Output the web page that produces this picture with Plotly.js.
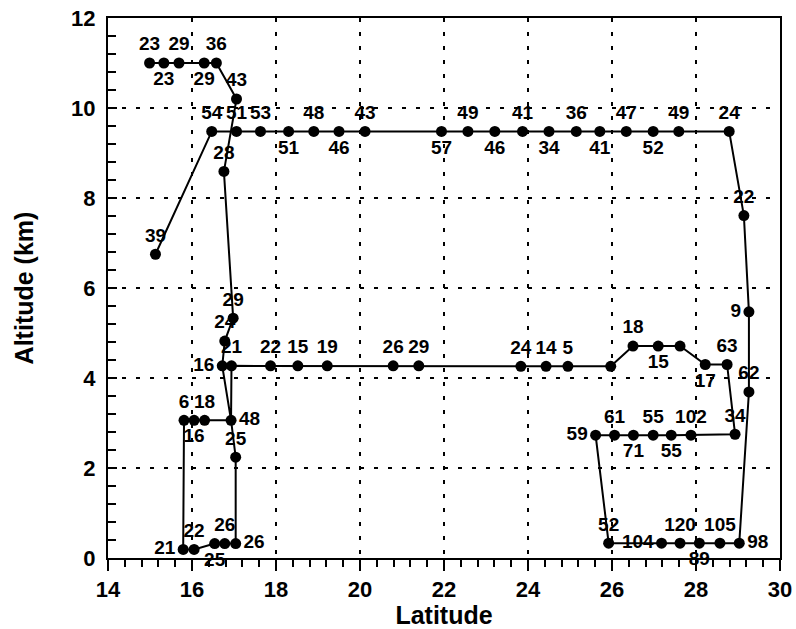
<!DOCTYPE html>
<html>
<head>
<meta charset="utf-8">
<script src="https://cdn.plot.ly/plotly-3.0.1.min.js"></script>
<style>html,body{margin:0;padding:0;background:#fff;}#chart{width:796px;height:629px;}</style>
</head>
<body>
<div id="chart"></div>
<script>
// Flight observation points: latitude (deg), altitude (km), value label
const lat = [14.99, 15.33, 15.69, 16.29, 16.58, 17.06, 16.76, 16.98, 16.78, 16.72,
             16.93, 17.04, 17.04, 16.78, 16.54, 16.05, 15.79, 15.81, 16.05, 16.30,
             16.94, 17.87, 18.52, 19.22, 20.79, 21.40, 23.83, 24.43, 24.95, 25.97,
             26.50, 27.10, 27.62, 28.22, 28.74, 28.93, 27.88, 27.41, 26.98, 26.51,
             26.06, 25.61, 25.92, 27.18, 27.62, 28.08, 28.57, 29.03, 29.26, 29.26,
             29.14, 28.79, 27.59, 26.98, 26.34, 25.71, 25.15, 24.50, 23.87, 23.21,
             22.57, 21.94, 20.12, 19.50, 18.90, 18.30, 17.63, 17.06, 16.47, 15.13];
const alt = [11.0, 11.0, 11.0, 11.0, 11.0, 10.2, 8.59, 5.33, 4.82, 4.27,
             3.06, 2.24, 0.32, 0.32, 0.32, 0.19, 0.19, 3.06, 3.06, 3.06,
             4.27, 4.27, 4.27, 4.27, 4.27, 4.27, 4.26, 4.26, 4.26, 4.26,
             4.71, 4.71, 4.71, 4.30, 4.30, 2.75, 2.73, 2.73, 2.73, 2.73,
             2.73, 2.73, 0.33, 0.33, 0.33, 0.33, 0.33, 0.33, 3.69, 5.47,
             7.61, 9.48, 9.48, 9.48, 9.48, 9.48, 9.48, 9.48, 9.48, 9.48,
             9.48, 9.48, 9.48, 9.48, 9.48, 9.48, 9.48, 9.48, 9.48, 6.75];
const labels = ['23','23','29','29','36','43','28','29','24','16',
                '48','25','26','26','25','22','21','6','16','18',
                '21','22','15','19','26','29','24','14','5','',
                '18','15','','17','63','34','102','55','55','71',
                '61','59','52','104','120','89','105','98','62','9',
                '22','24','49','52','47','41','36','34','41','46',
                '49','57','43','46','48','51','53','51','54','39'];
// Flight track: order in which the points are joined
const track = [0,1,2,3,4,5,6,7,8,9,10,11,12,13,14,15,16,17,18,19,10,
               20,21,22,23,24,25,26,27,28,29,30,31,32,33,34,35,36,37,38,39,
               40,41,42,43,44,45,46,47,48,49,50,51,52,53,54,55,56,57,58,59,
               60,61,62,63,64,65,66,67,68,69];

// label placement (style)
const T='top center', B='bottom center', L='middle left', R='middle right';
const labelPos = [T,B,T,B,T,T,T,T,T,L,
                  R,T,R,T,B,T,L,T,B,T,
                  T,T,T,T,T,T,T,T,T,T,
                  T,B,T,B,T,T,T,B,T,B,
                  T,L,T,L,T,B,T,R,T,L,
                  T,T,T,B,T,B,T,B,T,B,
                  T,B,T,B,T,B,T,T,T,T];

const FONT = 'Liberation Sans, Arial, Helvetica, sans-serif';

const lineTrace = {
  x: track.map(i => lat[i]),
  y: track.map(i => alt[i]),
  mode: 'lines',
  line: {color: '#000', width: 2},
  hoverinfo: 'skip',
  cliponaxis: false
};
const pointTrace = {
  x: lat, y: alt, text: labels,
  mode: 'markers+text',
  textposition: labelPos,
  marker: {color: '#000', size: 11},
  textfont: {family: FONT, size: 19, color: '#000', weight: 'bold'},
  cliponaxis: false
};

const axisCommon = {
  showline: true, linecolor: '#000', linewidth: 2, mirror: true,
  showgrid: true, gridcolor: '#000', gridwidth: 2, griddash: '4px,10px',
  zeroline: false, dtick: 2, tickwidth: 2, tickcolor: '#000',
  tickfont: {family: FONT, size: 22, color: '#000', weight: 'bold'}
};

const layout = {
  width: 796, height: 629,
  margin: {l: 108, r: 16, t: 18, b: 71},
  paper_bgcolor: '#fff', plot_bgcolor: '#fff',
  showlegend: false,
  xaxis: Object.assign({}, axisCommon, {
    range: [14, 30], tick0: 14, ticks: 'outside', ticklen: 11,
    minor: {dtick: 0.4, ticks: 'outside', ticklen: 7, tickwidth: 2, tickcolor: '#000', showgrid: false},
    title: {text: 'Latitude', font: {family: FONT, size: 25, color: '#000', weight: 'bold'}, standoff: 4}
  }),
  yaxis: Object.assign({}, axisCommon, {
    range: [0, 12], tick0: 0, ticks: 'inside', ticklen: 9,
    ticklabelstandoff: 6,
    minor: {dtick: 0.4, ticks: 'inside', ticklen: 8, tickwidth: 2, tickcolor: '#000', showgrid: false},
    title: {text: 'Altitude (km)', font: {family: FONT, size: 25, color: '#000', weight: 'bold'}, standoff: 30}
  })
};

Plotly.newPlot('chart', [lineTrace, pointTrace], layout, {displayModeBar: false, staticPlot: true});
</script>
</body>
</html>
